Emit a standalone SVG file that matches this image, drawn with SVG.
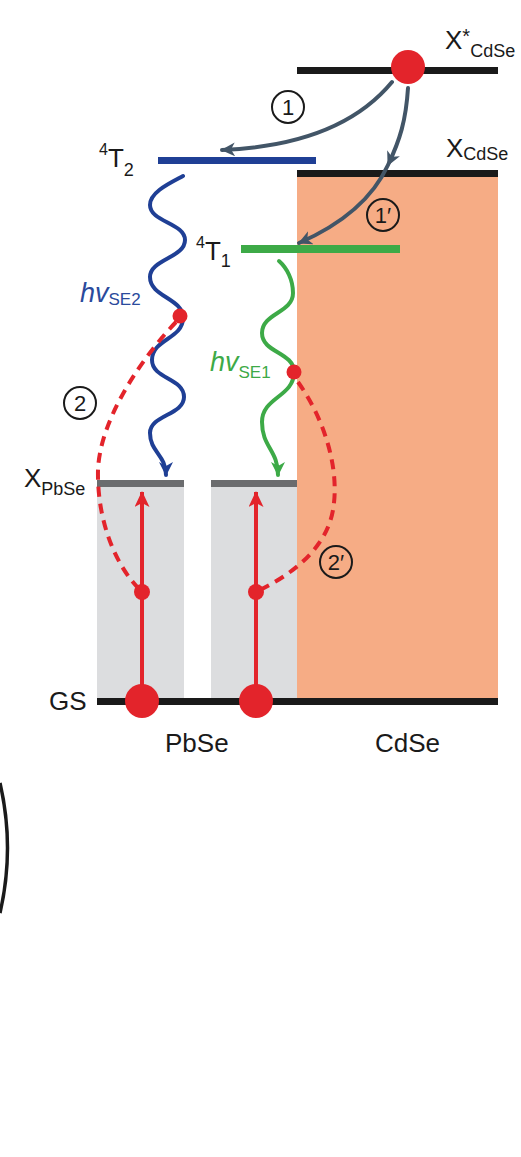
<svg xmlns="http://www.w3.org/2000/svg" width="521" height="1157" viewBox="0 0 521 1157">
<style>
text{font-family:"Liberation Sans",Arial,sans-serif;fill:#1a1a1a}
.lbl{font-size:26px}
.sub{font-size:18px}
.num{font-size:22px;text-anchor:middle}
.circ{fill:none;stroke:#1a1a1a;stroke-width:2}
.slate{fill:none;stroke:#425567;stroke-width:4;stroke-linecap:round}
.wave{fill:none;stroke-width:4;stroke-linecap:round}
.dash{fill:none;stroke:#E3242B;stroke-width:4;stroke-dasharray:10 7}
.red{fill:#E3242B}
</style>
<defs>
<marker id="ahSlate" markerUnits="userSpaceOnUse" markerWidth="16" markerHeight="16" refX="13" refY="7" orient="auto"><path d="M0,0 L14,7 L0,14 L4,7 z" fill="#425567"/></marker>
<marker id="ahBlue" markerUnits="userSpaceOnUse" markerWidth="16" markerHeight="16" refX="13" refY="7" orient="auto"><path d="M0,0 L14,7 L0,14 L4,7 z" fill="#1F3F95"/></marker>
<marker id="ahGreen" markerUnits="userSpaceOnUse" markerWidth="16" markerHeight="16" refX="13" refY="7" orient="auto"><path d="M0,0 L14,7 L0,14 L4,7 z" fill="#3DAA47"/></marker>
<marker id="ahRed" markerUnits="userSpaceOnUse" markerWidth="18" markerHeight="16" refX="15" refY="7.5" orient="auto"><path d="M0,0 L16,7.5 L0,15 L4,7.5 z" fill="#E3242B"/></marker>
</defs>

<g id="cdse-band">
<rect x="297" y="175" width="201" height="525" fill="#F6AC85"/>
</g>
<g id="pbse-bands">
<rect x="97" y="483" width="87" height="216" fill="#DCDDDF"/>
<rect x="211" y="483" width="86" height="216" fill="#DCDDDF"/>
<rect x="97" y="480" width="87" height="7" fill="#6B6C6E"/>
<rect x="211" y="480" width="86" height="7" fill="#6B6C6E"/>
</g>

<g id="level-xstar">
<rect x="297" y="67" width="201" height="7" fill="#1a1a1a"/>
<text class="lbl" x="445" y="49" font-size="25">X<tspan font-size="20" dy="-6">*</tspan><tspan class="sub" dy="14">CdSe</tspan></text>
</g>
<g id="level-xcdse">
<rect x="297" y="170" width="201" height="7" fill="#1a1a1a"/>
<text class="lbl" x="446" y="157" font-size="25">X<tspan class="sub" dy="3">CdSe</tspan></text>
</g>
<g id="level-4T2">
<rect x="158" y="157" width="158" height="7" fill="#1F3F95"/>
<text class="lbl" x="99" y="167" font-size="27"><tspan font-size="16" dy="-12">4</tspan><tspan dy="12">T</tspan><tspan class="sub" dy="9">2</tspan></text>
</g>
<g id="level-4T1">
<rect x="241" y="245" width="159" height="8" fill="#3DAA47"/>
<text class="lbl" x="196" y="260" font-size="27"><tspan font-size="16" dy="-12">4</tspan><tspan dy="12">T</tspan><tspan class="sub" dy="7">1</tspan></text>
</g>
<g id="level-gs">
<rect x="97" y="698" width="401" height="7" fill="#1a1a1a"/>
<text class="lbl" x="49" y="710" font-size="25">GS</text>
</g>
<g id="level-xpbse">
<text class="lbl" x="24" y="487" font-size="25">X<tspan class="sub" dy="8">PbSe</tspan></text>
</g>

<g id="connectors">
<path class="slate" d="M392,82 Q340,145 222,150" marker-end="url(#ahSlate)"/>
<path class="slate" d="M408,88 C406,120 400,140 388,165 C372,200 340,225 299,243" marker-mid="url(#ahSlate)" marker-end="url(#ahSlate)"/>
<path class="wave" stroke="#1F3F95" d="M183,176 C170,183 150,192 150,205 C150,222 185,223 185,240 C185,258 150,259 150,277 C150,297 183,298 183,318 C183,339 152,339 152,360 C152,379 184,378 184,397 C184,415 150,415 150,433 C150,452 166,455 166,475" marker-end="url(#ahBlue)"/>
<path class="wave" stroke="#3DAA47" d="M279,261 C287,268 293,280 293,293 C293,313 262,313 262,333 C262,353 294,352 294,372 C294,397 262,397 262,422 C262,447 278,450 278,475" marker-end="url(#ahGreen)"/>
<path class="dash" d="M176,322 C140,360 100,420 98,470 C97,520 115,565 140,590"/>
<path class="dash" d="M298,382 C325,420 340,470 333,510 C326,550 290,575 260,590"/>
<line x1="142" y1="690" x2="142" y2="492" stroke="#E3242B" stroke-width="4" marker-end="url(#ahRed)"/>
<line x1="256" y1="690" x2="256" y2="492" stroke="#E3242B" stroke-width="4" marker-end="url(#ahRed)"/>
</g>

<g id="electrons">
<circle class="red" cx="408" cy="67" r="17"/>
<circle class="red" cx="180" cy="316" r="7.5"/>
<circle class="red" cx="294" cy="372" r="7.5"/>
<circle class="red" cx="142" cy="592" r="8"/>
<circle class="red" cx="256" cy="592" r="8"/>
<circle class="red" cx="142" cy="701" r="17"/>
<circle class="red" cx="256" cy="701" r="17"/>
</g>

<g id="step-labels">
<circle class="circ" cx="288" cy="107" r="16"/><text class="num" x="288" y="115">1</text>
<circle class="circ" cx="383" cy="215" r="16"/><text class="num" x="383" y="223">1′</text>
<circle class="circ" cx="80" cy="403" r="16"/><text class="num" x="80" y="411">2</text>
<circle class="circ" cx="336" cy="562" r="16"/><text class="num" x="336" y="570">2′</text>
</g>

<g id="emission-labels">
<text x="80" y="302" font-size="27" font-style="italic" style="fill:#2A4A9C">hv<tspan font-size="17" font-style="normal" dy="3">SE2</tspan></text>
<text x="210" y="371" font-size="27" font-style="italic" style="fill:#3DAA47">hv<tspan font-size="17" font-style="normal" dy="7">SE1</tspan></text>
</g>

<g id="material-labels">
<text class="lbl" x="165" y="752">PbSe</text>
<text class="lbl" x="375" y="752">CdSe</text>
</g>

<g id="edge-arc">
<path d="M0,783 Q15,848 0,913" fill="none" stroke="#1a1a1a" stroke-width="3.5"/>
</g>
</svg>
